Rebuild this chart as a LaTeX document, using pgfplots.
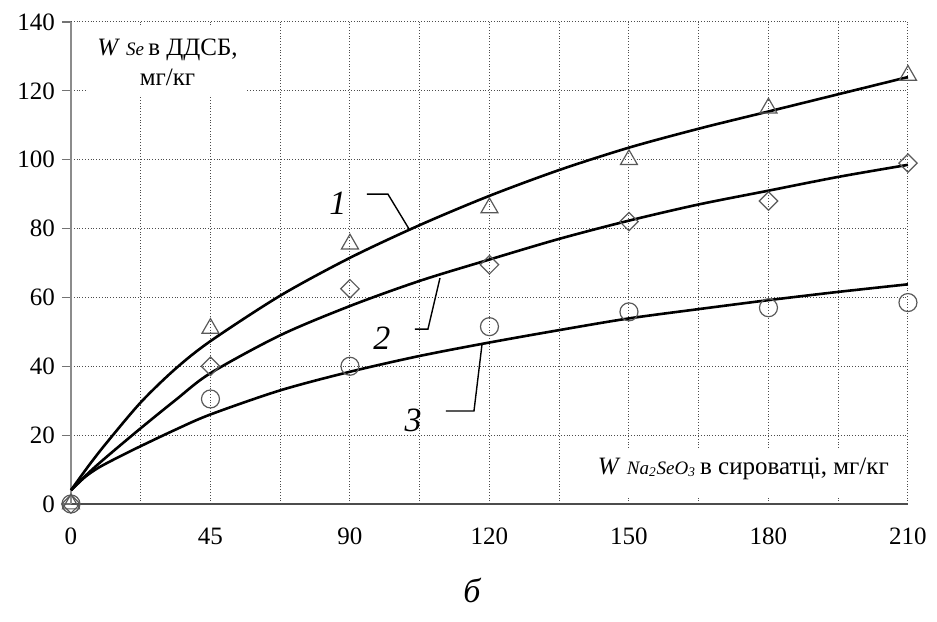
\documentclass[border=0pt]{standalone}
\usepackage{pgfplots}
\pgfplotsset{compat=1.18}
\usepackage{fontspec}
\setmainfont{Liberation Serif}
\begin{document}
\begin{tikzpicture}
\begin{axis}[
  scale only axis, width=418.5pt, height=241pt,
  xmin=0, xmax=6, ymin=0, ymax=140,
  clip=false,
  axis x line*=bottom, axis y line*=left,
  axis line style={-},
  x axis line style={black!70, line width=0.7pt},
  y axis line style={black!45, line width=0.7pt},
  xtick={0,1,2,3,4,5,6},
  xticklabels={0,45,90,120,150,180,210},
  minor x tick num=1,
  ytick={0,20,...,140},
  x tick style={draw=none}, minor x tick style={draw=none},
  y tick style={black!55, line width=0.6pt},
  tick align=outside, major tick length=4.5pt,
  grid=both,
  major grid style={densely dotted, black!70, line width=0.5pt},
  minor grid style={densely dotted, black!70, line width=0.5pt},
  tick label style={font=\fontsize{12.5}{15}\selectfont},
  /pgf/number format/assume math mode=true,
  xticklabel style={yshift=-4pt},
]
% fitted curves
\addplot[black, line width=1.3pt, smooth] coordinates {
 (0,4) (0.125,11) (0.25,17.5) (0.5,29.5) (0.75,39.3) (1,47.3) (1.5,60.5) (2,71.5) (2.5,81) (3,89.5) (3.5,97) (4,103.5) (4.5,109) (5,114) (5.5,119) (6,124)};
\addplot[black, line width=1.3pt, smooth] coordinates {
 (0,4) (0.125,9) (0.25,13.5) (0.5,22) (0.75,30.2) (1,38) (1.5,49) (2,57.5) (2.5,64.8) (3,71) (3.5,77) (4,82.3) (4.5,87) (5,91) (5.5,95) (6,98.5)};
\addplot[black, line width=1.3pt, smooth] coordinates {
 (0,4) (0.1,7.8) (0.2,10.6) (0.35,13.8) (0.5,16.8) (0.75,21.6) (1,26) (1.5,33) (2,38.4) (2.5,43) (3,46.9) (3.5,50.5) (4,53.9) (4.5,56.6) (5,59.2) (5.5,61.6) (6,63.8)};
% measured points
\addplot[only marks, mark=triangle, mark size=4.9pt, mark options={draw=black!65, line width=0.6pt}] coordinates {
 (0,0) (1,51) (2,75.5) (3,86) (4,100) (5,115) (6,124.5)};
\addplot[only marks, mark=square, mark size=3.25pt, mark options={rotate=45, draw=black!65, line width=0.6pt}] coordinates {
 (0,0) (1,40) (2,62.5) (3,69.5) (4,82) (5,88) (6,99)};
\addplot[only marks, mark=o, mark size=4.5pt, mark options={draw=black!65, line width=0.6pt}] coordinates {
 (0,0) (1,30.5) (2,40) (3,51.5) (4,55.8) (5,57) (6,58.5)};
% curve labels and leaders
\draw[black, line width=0.7pt] (axis cs:2.122,90.0) -- (axis cs:2.272,90.0) -- (axis cs:2.423,79.9);
\draw[black, line width=0.7pt] (axis cs:2.466,50.8) -- (axis cs:2.559,50.8) -- (axis cs:2.645,65.6);
\draw[black, line width=0.7pt] (axis cs:2.688,27.0) -- (axis cs:2.889,27.0) -- (axis cs:2.946,46.2);
\node[font=\fontsize{17}{18}\selectfont\itshape] at (axis cs:1.914,87.4) {1};
\node[font=\fontsize{17}{18}\selectfont\itshape] at (axis cs:2.229,48.2) {2};
\node[font=\fontsize{17}{18}\selectfont\itshape] at (axis cs:2.452,24.4) {3};
% axis title boxes
\fill[white] (axis cs:0.122,139.2) rectangle (axis cs:1.262,118.8);
\node[align=center, font=\fontsize{12.5}{15}\selectfont] at (axis cs:0.692,128.3)
  {\textit{W} {\fontsize{9.5}{10}\selectfont\textit{Se}}\,в ДДСБ,\\ мг/кг};
\fill[white] (axis cs:3.742,16.3) rectangle (axis cs:5.892,1.74);
\node[font=\fontsize{12.5}{15}\selectfont] at (axis cs:4.82,10.3)
  {\textit{W} {\fontsize{9.5}{10}\selectfont\textit{Na\textsubscript{2}SeO\textsubscript{3}}}\,в сироватці, мг/кг};
% subfigure letter
\node[font=\fontsize{17}{18}\selectfont\itshape] at (axis cs:2.875,-25) {б};
% bounding box
\path (rel axis cs:-0.0848,-0.2448) rectangle (rel axis cs:1.0347,1.0456);
\end{axis}
\end{tikzpicture}
\end{document}
